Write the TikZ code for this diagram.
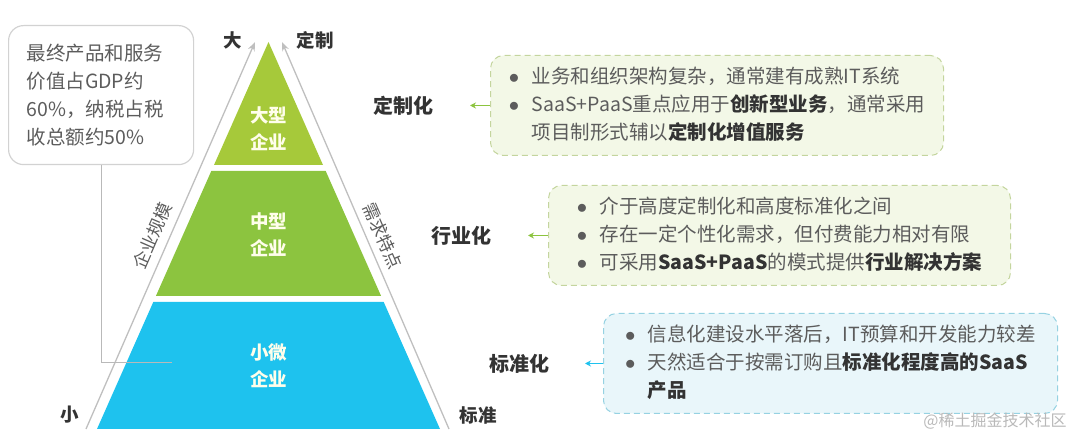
\documentclass[tikz,border=0pt]{standalone}
\usepackage{fontspec}
\setmainfont{Noto Sans CJK SC}
\usetikzlibrary{arrows.meta, positioning}

\definecolor{limegreen}{HTML}{A6C93A}
\definecolor{leafgreen}{HTML}{8CC43F}
\definecolor{skyblue}{HTML}{1EC2EE}
\definecolor{textgray}{HTML}{5C5C5C}
\definecolor{darkgray}{HTML}{333333}
\definecolor{greenfill}{HTML}{F3F8E7}
\definecolor{greenline}{HTML}{C4D59E}
\definecolor{bluefill}{HTML}{E9F6FA}
\definecolor{blueline}{HTML}{96D2E2}

\newcommand{\keyterm}[1]{{\bfseries\color{darkgray}#1}}
\newcommand{\dotmark}{$\bullet$}

\begin{document}
\begin{tikzpicture}[
  x=1pt, y=-1pt,
  bandtext/.style={font=\fontsize{18.5}{27}\selectfont\bfseries,
                   text=white!92!yellow, align=center},
  endlabel/.style={font=\fontsize{18.5}{20}\selectfont\bfseries, text=darkgray},
  sidetext/.style={font=\fontsize{17.5}{20}\selectfont, text=textgray},
  sideline/.style={draw=gray!50, line width=1.3pt,
                   -{Stealth[length=9pt, width=7pt]}},
  note/.style={draw=gray!35, line width=1.2pt, rounded corners=15pt,
               minimum height=139, text width=149, inner xsep=18pt,
               align=left, font=\fontsize{19.5}{27.7}\selectfont,
               text=textgray},
  noteline/.style={draw=gray!55, line width=0.8pt},
  infobox/.style={dashed, dash pattern=on 6pt off 4pt, line width=1pt,
                  rounded corners=13pt, minimum height=100,
                  font=\fontsize{19.5}{28}\selectfont, text=textgray},
  level/.style={font=\fontsize{20}{22}\selectfont\bfseries, text=darkgray},
  arrow/.style={-{Stealth[length=6pt, width=6pt]}, line width=1.3pt},
]
\useasboundingbox (0,0) rectangle (1080,438);

% pyramid
\fill[limegreen] (268.5,42) -- (323,165) -- (214,165) -- cycle;
\fill[leafgreen] (211.3,171) -- (325.7,171) -- (381.1,296) -- (155.9,296) -- cycle;
\fill[skyblue] (153.3,302) -- (383.7,302) -- (440,429) -- (97,429) -- cycle;
\node[bandtext] (big) at (268.5,129) {大型\\企业};
\node[bandtext] (mid) at (268.5,235) {中型\\企业};
\node[bandtext] (small) at (268.5,366) {小微\\企业};

% side axes
\coordinate (lbot) at (86,429);
\coordinate (ltop) at (255,42);
\coordinate (rbot) at (449,429);
\coordinate (rtop) at (282,42);
\draw[sideline] (lbot) -- (ltop);
\draw[sideline] (rbot) -- (rtop);
\node[endlabel] (large) at (233,40) {大};
\node[endlabel] (tailor) at (315,40) {定制};
\node[endlabel] (tiny) at (70,415) {小};
\node[endlabel] (std) at (478,415) {标准};
\node[sidetext, rotate=66.5] (scale) at (152,236) {企业规模};
\node[sidetext, rotate=-66.5] (demand) at (383,236) {需求特点};

% callout
\node[note, anchor=north west] (gdp) at (8,25)
  {最终产品和服务\\价值占GDP约\\60\%，纳税占税\\收总额约50\%};
\coordinate (gdppt) at (172,362);
\draw[noteline] (gdp.south) |- (gdppt);

% info boxes
\node[infobox, draw=greenline, fill=greenfill, minimum width=453,
      anchor=north west] (box1) at (490,55) {%
  \begin{tabular}{@{}l@{\hspace{12.5pt}}l@{}}
  \dotmark & 业务和组织架构复杂，通常建有成熟IT系统\\
  \dotmark & SaaS+PaaS重点应用于\keyterm{创新型业务}，通常采用\\
    & 项目制形式辅以\keyterm{定制化增值服务}
  \end{tabular}};
\node[infobox, draw=greenline, fill=greenfill, minimum width=462,
      anchor=north west] (box2) at (548,185) {%
  \begin{tabular}{@{}l@{\hspace{12.5pt}}l@{}}
  \dotmark & 介于高度定制化和高度标准化之间\\
  \dotmark & 存在一定个性化需求，但付费能力相对有限\\
  \dotmark & 可采用\keyterm{SaaS+PaaS}的模式提供\keyterm{行业解决方案}
  \end{tabular}};
\node[infobox, draw=blueline, fill=bluefill, minimum width=454,
      anchor=north west] (box3) at (603,313) {%
  \begin{tabular}{@{}l@{\hspace{12.5pt}}l@{}}
  \dotmark & 信息化建设水平落后，IT预算和开发能力较差\\
  \dotmark & 天然适合于按需订购且\keyterm{标准化程度高的SaaS}\\
    & \keyterm{产品}
  \end{tabular}};

\node[level, left=53pt of box1] (custom) {定制化};
\node[level, left=53pt of box2] (industry) {行业化};
\node[level, left=50pt of box3] (standard) {标准化};
\draw[arrow, leafgreen, shorten >=33pt] (box1.west) -- (custom.east);
\draw[arrow, leafgreen, shorten >=33pt] (box2.west) -- (industry.east);
\draw[arrow, skyblue, shorten >=32pt] (box3.west) -- (standard.east);

\node[font=\fontsize{16}{18}\selectfont, text=gray!55] (mark) at (995,421)
  {@稀土掘金技术社区};
\end{tikzpicture}
\end{document}
